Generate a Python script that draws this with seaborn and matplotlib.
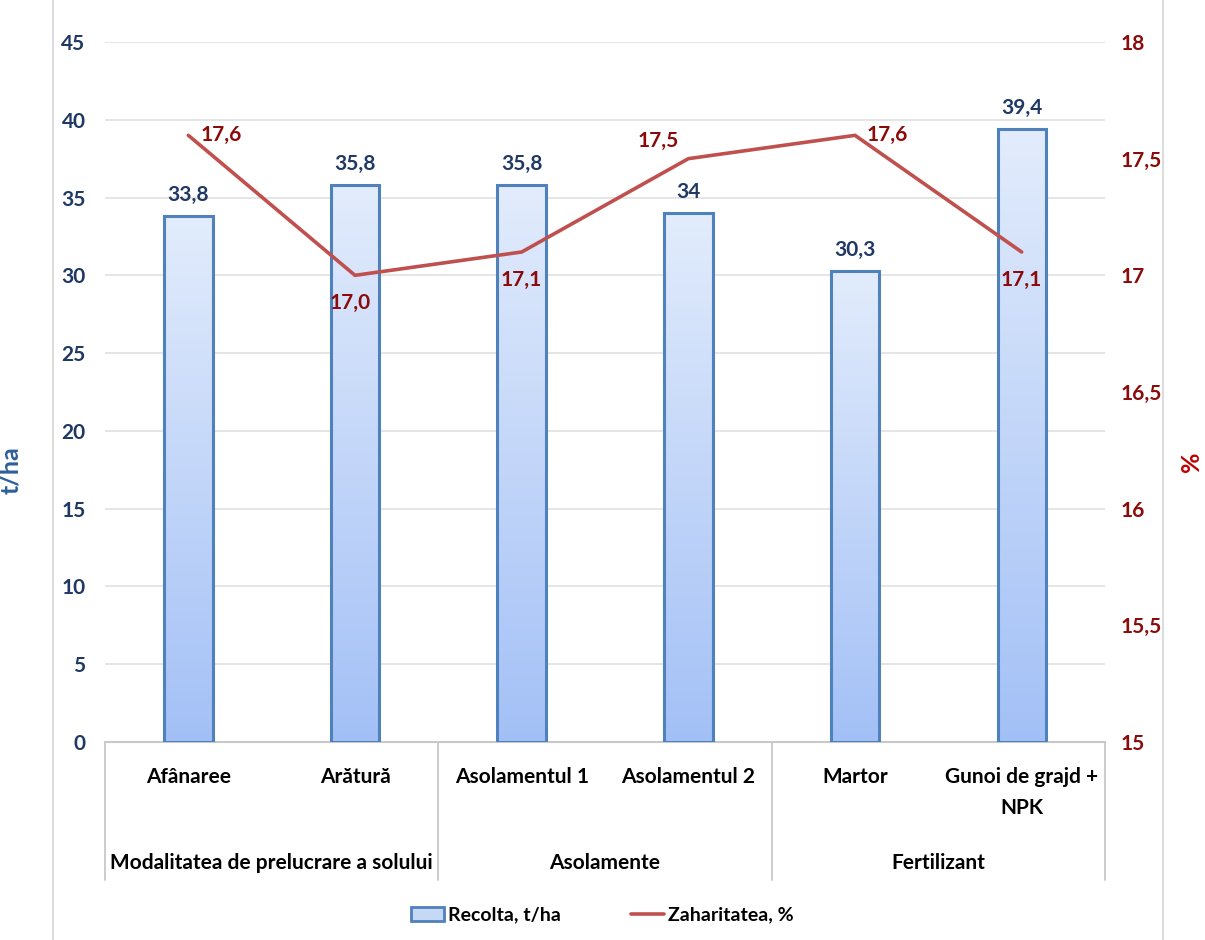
import numpy as np
import pandas as pd
import matplotlib
matplotlib.use("Agg")
import matplotlib.pyplot as plt
import seaborn as sns
from matplotlib.patches import Patch
from matplotlib.lines import Line2D
from matplotlib.colors import LinearSegmentedColormap
import matplotlib.transforms as mtransforms

# --- data ---
categories = ["Afânaree", "Arătură", "Asolamentul 1", "Asolamentul 2", "Martor", "Gunoi de grajd +\nNPK"]
groups = ["Modalitatea de prelucrare a solului", "Asolamente", "Fertilizant"]
group_sizes = [2, 2, 2]
yield_t_ha = [33.8, 35.8, 35.8, 34.0, 30.3, 39.4]
sugar_pct = [17.6, 17.0, 17.1, 17.5, 17.6, 17.1]
left_ticks = [0, 5, 10, 15, 20, 25, 30, 35, 40, 45]
right_ticks = [15, 15.5, 16, 16.5, 17, 17.5, 18]

sns.set_theme(style="white")
plt.rcParams["font.family"] = ["Lato", "DejaVu Sans"]
plt.rcParams["font.weight"] = "bold"
plt.rcParams["text.color"] = "black"

NAVY = "#1f3864"
BLUE_LABEL = "#2e5f99"
DARK_RED = "#8b0a0a"
RED_LABEL = "#c00000"
LINE_RED = "#c0504d"
EDGE_BLUE = "#4f81bd"
GRID = "#e0e0e0"
FS = 15

fig = plt.figure(figsize=(12.05, 9.4), dpi=100)
ax = fig.add_axes([105 / 1205, 1 - 742 / 940, 1000 / 1205, 700 / 940])

df = pd.DataFrame({"cat": categories, "val": yield_t_ha})
sns.barplot(data=df, x="cat", y="val", ax=ax, width=0.29, color="#c5d9f7",
            edgecolor=EDGE_BLUE, linewidth=2.2, zorder=3)

# vertical gradient fill inside each bar
cmap = LinearSegmentedColormap.from_list("barfill", ["#a3c0f6", "#e2ecfc"])
grad = np.linspace(0, 1, 256).reshape(-1, 1)
for p in list(ax.patches):
    x0, y0 = p.get_x(), p.get_y()
    w, h = p.get_width(), p.get_height()
    im = ax.imshow(grad, cmap=cmap, origin="lower", aspect="auto",
                   extent=[x0, x0 + w, y0, y0 + h], zorder=2.5)
    im.set_clip_path(p)
    p.set_facecolor("none")

ax.set_xlim(-0.5, len(categories) - 0.5)
ax.set_ylim(0, 45)
ax.set_yticks(left_ticks)
ax.set_yticklabels([str(t) for t in left_ticks], color=NAVY, fontsize=FS, fontweight="bold")
ax.tick_params(axis="y", length=0, pad=14)
ax.set_xticks(range(len(categories)))
ax.set_xticklabels([])
ax.tick_params(axis="x", length=0)
ax.set_xlabel("")
ax.set_ylabel("t/ha", color=BLUE_LABEL, fontsize=18, fontweight="bold")
ax.yaxis.set_label_coords(-0.083, 0.389)
ax.grid(axis="y", color=GRID, linewidth=1.2, zorder=0)
ax.set_axisbelow(True)
for side in ["top", "left", "right"]:
    ax.spines[side].set_visible(False)
ax.spines["bottom"].set_color("#c8c8c8")
ax.spines["bottom"].set_linewidth(1.5)

# bar value labels
for i, v in enumerate(yield_t_ha):
    txt = f"{v:g}".replace(".", ",")
    ax.annotate(txt, (i, v), xytext=(0, 11), textcoords="offset pixels",
                ha="center", va="bottom", color=NAVY, fontsize=FS, fontweight="bold", zorder=5)

# secondary axis: sugar content line
ax2 = ax.twinx()
sns.lineplot(x=np.arange(len(sugar_pct)), y=sugar_pct, ax=ax2, color=LINE_RED,
             linewidth=2.6, zorder=4)
ax2.set_ylim(15, 18)
ax2.set_yticks(right_ticks)
ax2.set_yticklabels([f"{t:g}".replace(".", ",") for t in right_ticks],
                    color=DARK_RED, fontsize=FS, fontweight="bold")
ax2.tick_params(axis="y", length=0, pad=11)
ax2.set_ylabel("%", color=RED_LABEL, fontsize=18, fontweight="bold", rotation=90, va="center")
ax2.yaxis.set_label_coords(1.087, 0.40)
ax2.grid(False)
for side in ["top", "left", "right", "bottom"]:
    ax2.spines[side].set_visible(False)

label_offsets = [(12, 0, "left", "center"), (-5, -18, "center", "top"),
                 (0, -18, "center", "top"), (-10, 8, "right", "bottom"),
                 (12, 0, "left", "center"), (0, -18, "center", "top")]
for i, (v, (dx, dy, ha, va)) in enumerate(zip(sugar_pct, label_offsets)):
    ax2.annotate(f"{v:.1f}".replace(".", ","), (i, v), xytext=(dx, dy),
                 textcoords="offset pixels", ha=ha, va=va,
                 color=DARK_RED, fontsize=FS, fontweight="bold")

# two-level category axis
trans = mtransforms.blended_transform_factory(ax.transData, ax.transAxes)
for i, c in enumerate(categories):
    ax.text(i, -0.036, c, transform=trans, ha="center", va="top",
            fontsize=FS, fontweight="bold", color="black", linespacing=1.7)
start = 0
bounds = [-0.5]
for g, n in zip(groups, group_sizes):
    mid = start + (n - 1) / 2
    ax.text(mid, -0.173, g, transform=trans, ha="center", va="center",
            fontsize=FS, fontweight="bold", color="black")
    start += n
    bounds.append(start - 0.5)
for b in bounds:
    ax.add_line(Line2D([b, b], [0, -0.197], transform=trans, color="#c8c8c8",
                       linewidth=1.3, clip_on=False))

# outer frame lines
for xf in [53 / 1205, 1163 / 1205]:
    fig.add_artist(Line2D([xf, xf], [0, 1], transform=fig.transFigure,
                          color="#d9d9d9", linewidth=1.3))

handles = [Patch(facecolor="#c5d9f7", edgecolor=EDGE_BLUE, linewidth=2),
           Line2D([0], [0], color=LINE_RED, linewidth=2.6)]
leg = fig.legend(handles, ["Recolta, t/ha", "Zaharitatea, %"], loc="center",
                 bbox_to_anchor=(0.5, 1 - 915 / 940), ncol=2, frameon=False,
                 fontsize=14, columnspacing=3.6, handlelength=1.7, handletextpad=0.2)
for t in leg.get_texts():
    t.set_color("black")

fig.savefig("out.png", dpi=100, facecolor="white")
